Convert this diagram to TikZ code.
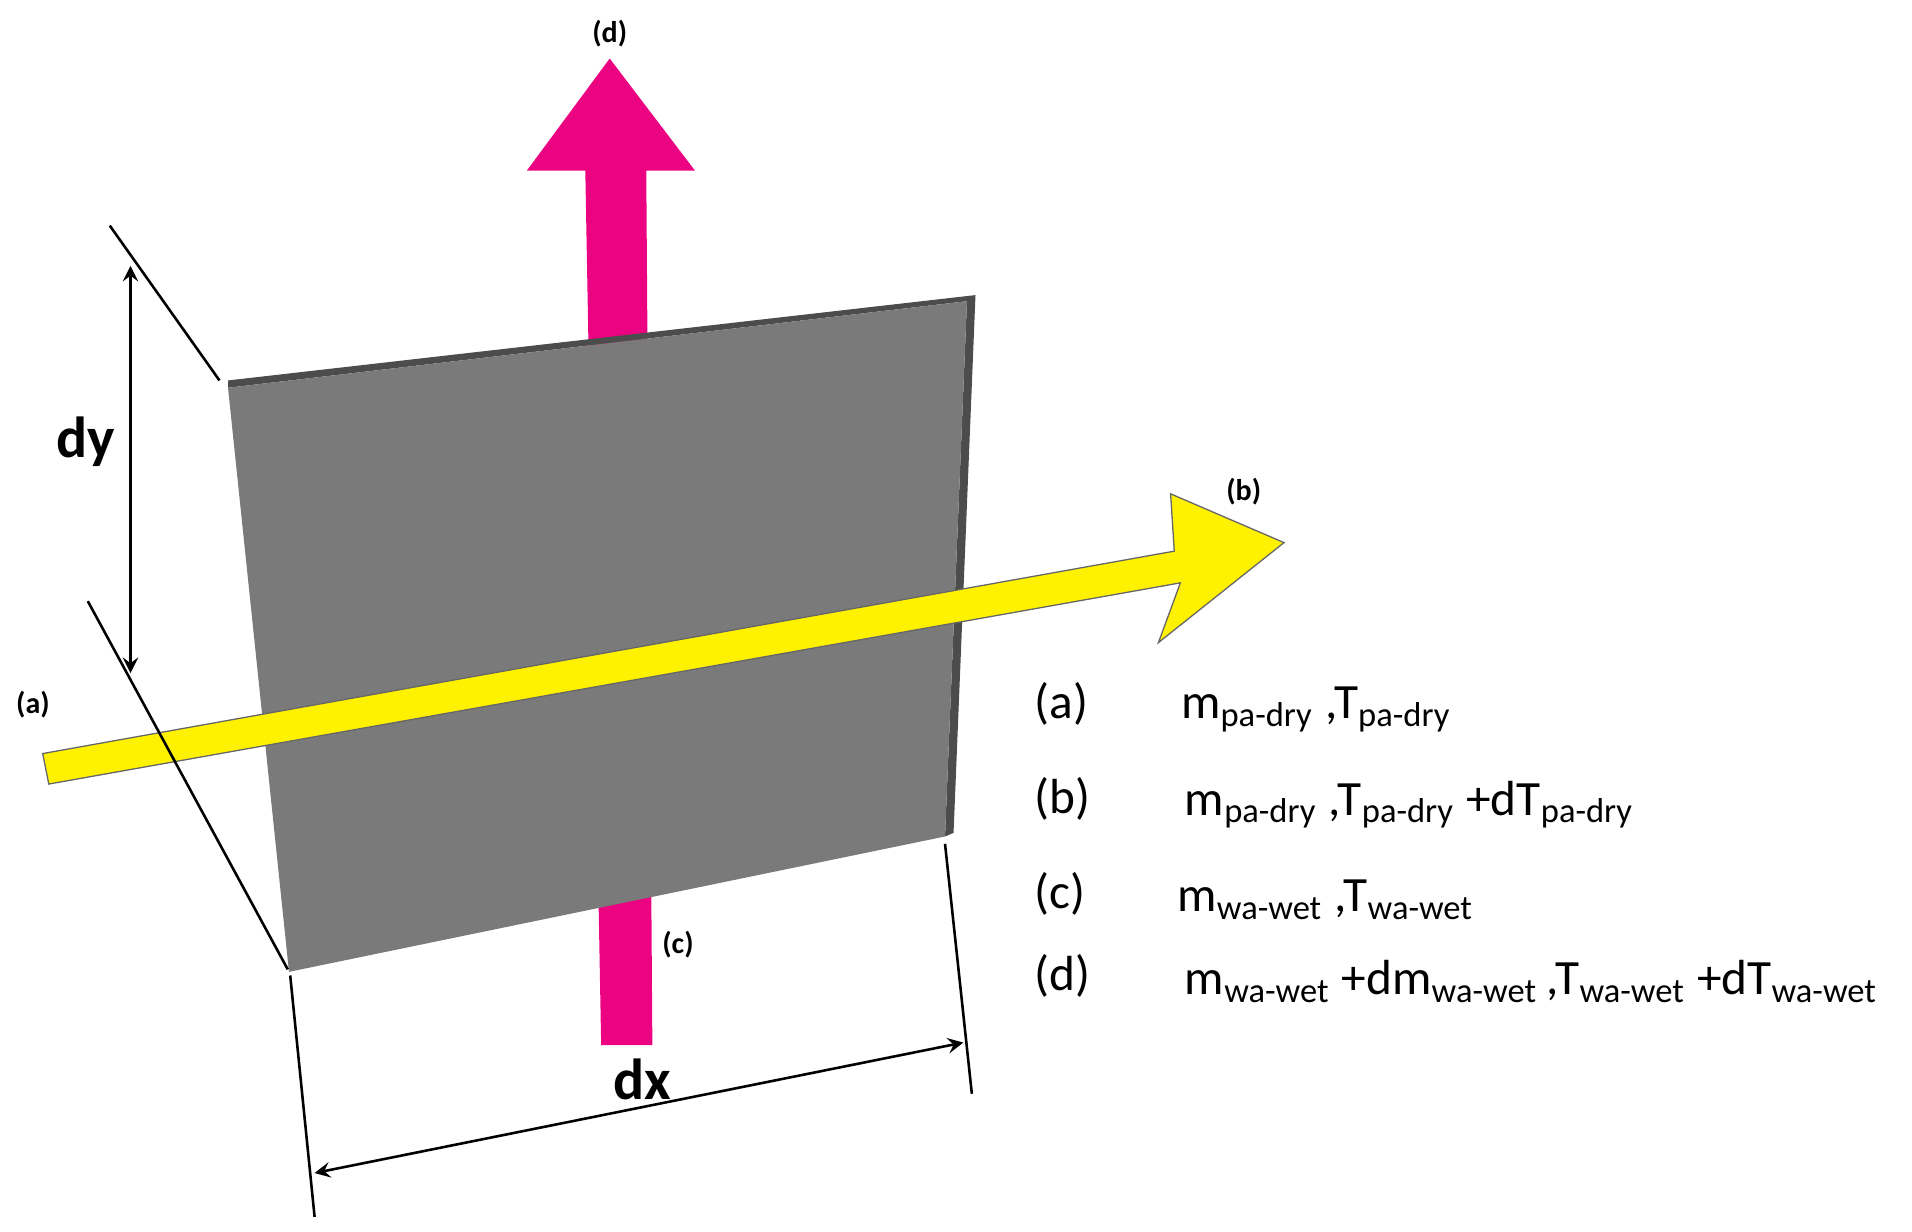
\documentclass[tikz,border=0pt]{standalone}
\usepackage{fontspec}
\setmainfont{Carlito}
\begin{document}
\begin{tikzpicture}[x=0.01cm,y=-0.01cm,
  dim/.style={line width=0.6pt},
  lab/.style={font=\bfseries\fontsize{7}{8}\selectfont},
  big/.style={font=\bfseries\fontsize{13.5}{15}\selectfont},
  leg/.style={font=\fontsize{11.5}{13}\selectfont,anchor=west,inner sep=0pt}]
\useasboundingbox (0,0) rectangle (1568,1010);
% pink arrow
\fill[magenta!90!red] (493,857)--(535,857)--(530,140)--(570,140)--(500,48)--(432,140)--(480,140)--cycle;
% plate
\fill[black!70] (187,318)--(187,312)--(800,242)--(782,683)--(775,686)--(793,247)--cycle;
\fill[black!52] (187,318) coordinate(tl)--(793,247) coordinate(tr)--(775,686) coordinate(br)--(237,797) coordinate(bl)--cycle;
% yellow arrow
\filldraw[fill=yellow,draw=black!60,line width=0.3pt] (35,618)--(963,452)--(960,405)--(1053,445)--(950,527)--(968,478)--(40,643)--cycle;
% dimension lines
\coordinate (e1) at (90,185); \coordinate (e2) at (180,312);
\draw[dim] (e1)--(e2);
\coordinate (e3) at (72,493); \coordinate (e4) at (236,795);
\draw[dim] (e3)--(e4);
\coordinate (a1) at (107,218); \coordinate (a2) at (107,552);
\draw[dim,<->,>=stealth] (a1)--(a2);
\coordinate (e5) at (238,800); \coordinate (e6) at (258,998);
\draw[dim] (e5)--(e6);
\coordinate (e7) at (775,692); \coordinate (e8) at (797,897);
\draw[dim] (e7)--(e8);
\coordinate (b1) at (258,962); \coordinate (b2) at (790,855);
\draw[dim,<->,>=stealth] (b1)--(b2);
\node[big] (dy) at (70,362) {dy};
\node[big] (dx) at (527,885) {dx};
\node[lab] (la) at (27,578) {(a)};
\node[lab] (lb) at (1020,403) {(b)};
\node[lab] (lc) at (556,775) {(c)};
\node[lab] (ld) at (500,28) {(d)};
% legend
\node[leg] (ga) at (848,577) {(a)};
\node[leg] (gb) at (848,655) {(b)};
\node[leg] (gc) at (848,733) {(c)};
\node[leg] (gd) at (848,800) {(d)};
\node[leg] (ta) at (968,582) {m\textsubscript{pa-dry} ,T\textsubscript{pa-dry}};
\node[leg] (tb) at (971,660) {m\textsubscript{pa-dry} ,T\textsubscript{pa-dry} +dT\textsubscript{pa-dry}};
\node[leg] (tc) at (965,738) {m\textsubscript{wa-wet} ,T\textsubscript{wa-wet}};
\node[leg] (td) at (971,805) {m\textsubscript{wa-wet} +dm\textsubscript{wa-wet}\,,T\textsubscript{wa-wet} +dT\textsubscript{wa-wet}};
\end{tikzpicture}
\end{document}
